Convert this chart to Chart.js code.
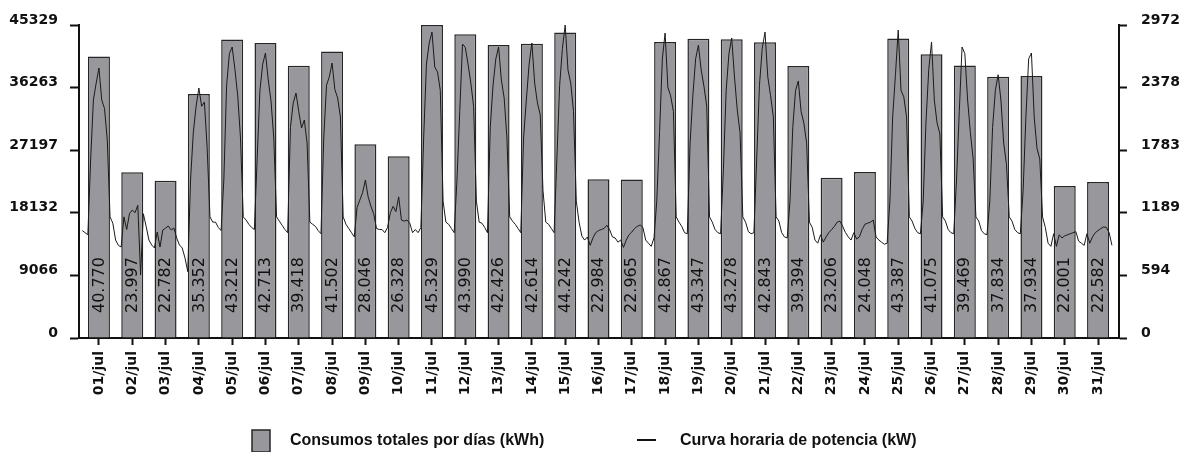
<!DOCTYPE html>
<html lang="es">
<head>
<meta charset="utf-8">
<title>Consumos de julio</title>
<script src="https://cdn.jsdelivr.net/npm/chart.js@4/dist/chart.umd.min.js"></script>
<style>
  html, body { margin: 0; padding: 0; background: #fff; }
  #grafico { display: block; }
</style>
</head>
<body>
<canvas id="grafico" width="1186" height="452"></canvas>
<script>
// Días del mes
const dias = [
  "01/jul", "02/jul", "03/jul", "04/jul", "05/jul", "06/jul", "07/jul", "08/jul",
  "09/jul", "10/jul", "11/jul", "12/jul", "13/jul", "14/jul", "15/jul", "16/jul",
  "17/jul", "18/jul", "19/jul", "20/jul", "21/jul", "22/jul", "23/jul", "24/jul",
  "25/jul", "26/jul", "27/jul", "28/jul", "29/jul", "30/jul", "31/jul"
];

// Consumos totales por días (kWh)
const consumos = [
  40770, 23997, 22782, 35352, 43212, 42713, 39418, 41502, 28046, 26328,
  45329, 43990, 42426, 42614, 44242, 22984, 22965, 42867, 43347, 43278,
  42843, 39394, 23206, 24048, 43387, 41075, 39469, 37834, 37934, 22001,
  22582
];

// Horas (cada 2 h)
const horas = [0, 2, 4, 6, 8, 10, 12, 14, 16, 18, 20, 22];

// Curva horaria de potencia (kW), una fila por día
const curvaHoraria = [
  [1020, 1000, 980, 1690, 2260, 2420, 2564, 2260, 2180, 1880, 1150, 1090], // 01
  [930, 880, 864, 1150, 1030, 1180, 1215, 1190, 1260, 600, 1180, 1060],    // 02
  [930, 883, 855, 1006, 864, 1025, 1044, 1063, 1025, 1044, 950, 883],      // 03
  [855, 760, 630, 1500, 1950, 2200, 2374, 2200, 2240, 1800, 1150, 1100],   // 04
  [1100, 1050, 1020, 1500, 2400, 2700, 2763, 2550, 2300, 1900, 1150, 1120], // 05
  [1080, 1050, 1030, 1700, 2350, 2600, 2706, 2450, 2250, 1900, 1150, 1110], // 06
  [1070, 1030, 1000, 2000, 2230, 2326, 2150, 1994, 2070, 1850, 1100, 1080], // 07
  [1060, 1020, 990, 1900, 2400, 2480, 2611, 2360, 2280, 2100, 1150, 1080],  // 08
  [1040, 1000, 960, 1240, 1310, 1380, 1500, 1340, 1250, 1180, 1040, 1030],  // 09
  [1030, 1000, 1050, 1190, 1250, 1200, 1340, 1120, 1110, 1120, 1090, 1000], // 10
  [1030, 1000, 1050, 1900, 2600, 2800, 2905, 2573, 2526, 2350, 1300, 1100], // 11
  [1080, 1040, 1000, 1500, 2150, 2791, 2760, 2600, 2420, 2200, 1300, 1100], // 12
  [1090, 1050, 1000, 2000, 2400, 2650, 2763, 2450, 2280, 1900, 1150, 1110], // 13
  [1080, 1040, 1000, 1900, 2260, 2600, 2801, 2421, 2231, 2120, 1400, 1100], // 14
  [1080, 1040, 1000, 1700, 2400, 2750, 2972, 2545, 2420, 2150, 1300, 1100], // 15
  [968, 930, 959, 880, 950, 1000, 1020, 1030, 1040, 1070, 1030, 960],       // 16
  [950, 910, 930, 860, 930, 980, 1006, 1040, 1060, 1073, 1050, 930],        // 17
  [900, 870, 950, 1300, 1950, 2650, 2896, 2380, 2300, 2150, 1150, 1100],    // 18
  [1060, 1000, 990, 1850, 2300, 2650, 2780, 2545, 2390, 2200, 1150, 1100],  // 19
  [1030, 1000, 990, 1600, 2350, 2700, 2849, 2478, 2165, 1950, 1150, 1100],  // 20
  [1010, 990, 1000, 1700, 2400, 2750, 2905, 2480, 2300, 2100, 1150, 1110],  // 21
  [1000, 960, 950, 1300, 2000, 2350, 2440, 2150, 2040, 1850, 1100, 1050],   // 22
  [930, 900, 980, 910, 960, 1000, 1030, 1060, 1100, 1110, 1060, 1000],      // 23
  [960, 930, 1000, 940, 960, 1030, 1080, 1090, 1100, 1120, 960, 930],       // 24
  [910, 890, 900, 1300, 2100, 2500, 2924, 2350, 2290, 2100, 1150, 1110],    // 25
  [1040, 1000, 990, 1300, 2050, 2550, 2811, 2260, 2040, 1940, 1150, 1110],  // 26
  [1030, 1000, 990, 1500, 2150, 2763, 2700, 2260, 1950, 1700, 1150, 1110],  // 27
  [1020, 990, 980, 1300, 2000, 2350, 2500, 2260, 1850, 1650, 1150, 1110],   // 28
  [1030, 1000, 990, 1400, 2100, 2650, 2706, 2098, 1800, 1700, 1150, 1050],  // 29
  [900, 870, 990, 870, 980, 950, 970, 980, 990, 1000, 1010, 920],           // 30
  [900, 880, 990, 900, 960, 1000, 1020, 1040, 1054, 1050, 1000, 880]        // 31
];

// Marcas de los ejes
const ticksIzq = [0, 9066, 18132, 27197, 36263, 45329];
const ticksDer = [0, 594, 1189, 1783, 2378, 2972];

const colorBarra = "#98989c";
const colorBorde = "#262626";
const negro = "#111";

// puntos de la curva: x en días (0..31) sobre un eje lineal oculto
const puntosCurva = [];
curvaHoraria.forEach((fila, d) => {
  fila.forEach((kw, j) => puntosCurva.push({ x: d + horas[j] / 24, y: kw }));
});

function formatear(v) {
  return String(v).replace(/\B(?=(\d{3})+(?!\d))/g, ".");
}

// las categorías no llegan hasta las líneas de los ejes verticales
const ajusteEjeX = {
  id: "ajusteEjeX",
  afterLayout(chart) {
    ["x", "x2"].forEach((id) => {
      const s = chart.scales[id];
      s._startPixel = s.left + 3.3;
      s._endPixel = s.right - 4.3;
      s._length = s._endPixel - s._startPixel;
    });
  }
};

const etiquetasBarras = {
  id: "etiquetasBarras",
  afterDatasetsDraw(chart) {
    const meta = chart.getDatasetMeta(0);
    const base = chart.scales.y.getPixelForValue(0);
    const ctx = chart.ctx;
    ctx.save();
    ctx.font = '16px "DejaVu Sans"';
    ctx.fillStyle = negro;
    ctx.textAlign = "left";
    ctx.textBaseline = "middle";
    meta.data.forEach((barra, i) => {
      ctx.save();
      ctx.translate(barra.x + 0.5, base - 25);
      ctx.rotate(-Math.PI / 2);
      ctx.fillText(formatear(consumos[i]), 0, 0);
      ctx.restore();
    });
    ctx.restore();
  }
};

const leyenda = {
  id: "leyenda",
  afterDraw(chart) {
    const ds = chart.data.datasets;
    const ctx = chart.ctx;
    ctx.save();
    ctx.font = 'bold 16px "Liberation Sans"';
    ctx.textBaseline = "middle";
    ctx.fillStyle = colorBarra;
    ctx.strokeStyle = colorBorde;
    ctx.lineWidth = 1.5;
    ctx.fillRect(252, 430, 18, 22);
    ctx.strokeRect(252, 430, 18, 22);
    ctx.fillStyle = negro;
    ctx.fillText(ds[0].label, 290, 441);
    ctx.beginPath();
    ctx.moveTo(637, 440);
    ctx.lineTo(656, 440);
    ctx.lineWidth = 2;
    ctx.strokeStyle = negro;
    ctx.stroke();
    ctx.fillText(ds[1].label, 680, 441);
    ctx.restore();
  }
};

const fuenteEje = { family: "DejaVu Sans", weight: "bold", size: 14 };

new Chart(document.getElementById("grafico"), {
  type: "bar",
  data: {
    labels: dias,
    datasets: [
      {
        type: "bar",
        label: "Consumos totales por días (kWh)",
        data: consumos,
        backgroundColor: colorBarra,
        borderColor: colorBorde,
        borderWidth: 1.5,
        barPercentage: 0.66,
        categoryPercentage: 1,
        grouped: false,
        xAxisID: "x",
        yAxisID: "y",
        order: 2
      },
      {
        type: "line",
        label: "Curva horaria de potencia (kW)",
        data: puntosCurva,
        borderColor: "#1a1a1a",
        borderWidth: 1,
        pointRadius: 0,
        tension: 0,
        xAxisID: "x2",
        yAxisID: "y1",
        order: 1
      }
    ]
  },
  options: {
    responsive: false,
    animation: false,
    devicePixelRatio: 1,
    layout: { padding: { top: 25, left: 0, right: 0, bottom: 0 } },
    plugins: {
      legend: { display: false },
      tooltip: { enabled: false }
    },
    scales: {
      x: {
        type: "category",
        position: "bottom",
        offset: true,
        afterFit: (s) => { s.height = 114; },
        grid: { drawOnChartArea: false, offset: false, tickLength: 7, tickWidth: 2, tickColor: negro },
        border: { color: negro, width: 2 },
        ticks: {
          autoSkip: false,
          minRotation: 90,
          maxRotation: 90,
          padding: 6,
          color: negro,
          font: fuenteEje
        }
      },
      x2: {
        type: "linear",
        display: false,
        offset: false,
        grid: { offset: false },
        min: 0,
        max: dias.length
      },
      y: {
        position: "left",
        min: 0,
        max: ticksIzq[ticksIzq.length - 1],
        afterFit: (s) => { s.width = 79; },
        afterBuildTicks: (s) => { s.ticks = ticksIzq.map((v) => ({ value: v })); },
        grid: { drawOnChartArea: false, tickLength: 9, tickWidth: 2, tickColor: negro },
        border: { color: negro, width: 2 },
        ticks: { padding: 12, labelOffset: -5, color: negro, font: fuenteEje, callback: (v) => String(v) }
      },
      y1: {
        position: "right",
        min: 0,
        max: ticksDer[ticksDer.length - 1],
        afterFit: (s) => { s.width = 67; },
        afterBuildTicks: (s) => { s.ticks = ticksDer.map((v) => ({ value: v })); },
        grid: { drawOnChartArea: false, tickLength: 8, tickWidth: 2, tickColor: negro },
        border: { color: negro, width: 2 },
        ticks: { padding: 14, labelOffset: -5, color: negro, font: fuenteEje, callback: (v) => String(v) }
      }
    }
  },
  plugins: [ajusteEjeX, etiquetasBarras, leyenda]
});
</script>
</body>
</html>
